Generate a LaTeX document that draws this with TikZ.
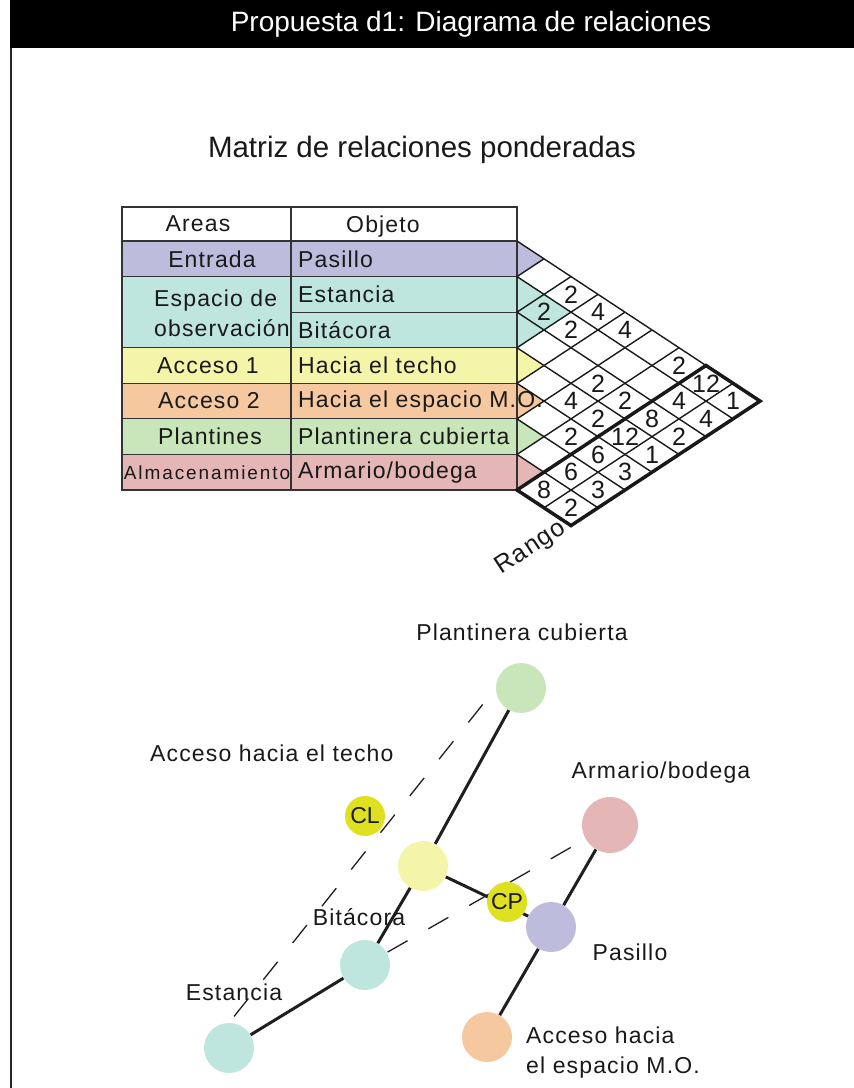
\documentclass[tikz,border=0pt]{standalone}
\usepackage{fontspec}
\setmainfont{Liberation Sans}
\newfontfamily\trkfont{Liberation Sans}[LetterSpace=5]
\newfontfamily\almfont{Liberation Sans}[LetterSpace=10]
\usepackage{tikz}
\usetikzlibrary{positioning,calc,backgrounds}
\definecolor{entcol}{RGB}{190,188,220}
\definecolor{obscol}{RGB}{191,230,222}
\definecolor{ac1col}{RGB}{245,245,170}
\definecolor{ac2col}{RGB}{245,200,160}
\definecolor{plncol}{RGB}{200,230,185}
\definecolor{almcol}{RGB}{229,182,182}
\definecolor{cruce}{RGB}{222,224,32}
\newcommand{\rowh}{35.5714}
\newcommand{\halfh}{17.7857}
\newcommand{\halfw}{27}

\begin{document}
\begin{tikzpicture}[x=1pt, y=-1pt,
    lbl/.style={font=\trkfont\fontsize{23}{30}\selectfont, text=black!90, inner sep=0pt},
    numtxt/.style={font=\fontsize{25}{28}\selectfont, text=black!90, inner sep=0pt},
    tabln/.style={line width=1.2pt, black!80},
    gridln/.style={line width=1.4pt, black!90},
    boldln/.style={line width=3.5pt, black!90, line join=miter},
    circ/.style={circle, inner sep=0pt, minimum size=50pt},
    cruz/.style={circle, inner sep=0pt, minimum size=40pt, fill=cruce, text=black!90, font=\fontsize{23}{26}\selectfont},
    rel/.style={line width=3pt, black!88},
    reld/.style={line width=1.3pt, black!88, dash pattern=on 23pt off 24pt}]
    \useasboundingbox (0,0) rectangle (854,1088);
    \fill[black] (10,0) rectangle (854,48);
    \draw[line width=2pt, black!85] (11,48) -- (11,1088);
    \node[font=\fontsize{28}{32}\selectfont, text=white] (ttl) at (471,24) {Propuesta d1: Diagrama de relaciones};
    \node[font=\fontsize{29.5}{34}\selectfont, text=black!90] (mtitle) at (422,150) {Matriz de relaciones ponderadas};

    % tabla de areas
    \foreach \k/\c in {1/entcol,2/obscol,3/obscol,4/ac1col,5/ac2col,6/plncol,7/almcol}{
        \fill[\c] (122,{241+(\k-1)*\rowh}) rectangle (517,{241+\k*\rowh});
        \fill[\c] (517,{241+(\k-1)*\rowh}) -- (517,{241+\k*\rowh}) -- ({517+\halfw},{241+(\k-0.5)*\rowh}) -- cycle;
    }
    \fill[obscol] ({517+\halfw},{241+3*\halfh}) -- ({517+2*\halfw},{241+4*\halfh}) -- ({517+\halfw},{241+5*\halfh}) -- (517,{241+4*\halfh}) -- cycle;
    \draw[tabln] (122,207) rectangle (517,490);
    \draw[tabln] (291,207) -- (291,490);
    \draw[tabln] (122,241) -- (517,241);
    \foreach \k in {1,3,4,5,6}
        \draw[tabln] (122,{241+\k*\rowh}) -- (517,{241+\k*\rowh});
    \draw[tabln] (291,{241+2*\rowh}) -- (517,{241+2*\rowh});

    % matriz triangular
    \foreach \a in {0,...,7}
        \draw[gridln] (517,{241+2*\a*\halfh}) -- ({517+(9-\a)*\halfw},{241+(\a+9)*\halfh});
    \foreach \b in {1,...,6}
        \draw[gridln] (517,{241+2*\b*\halfh}) -- ({517+\b*\halfw},{241+\b*\halfh});
    \draw[gridln] ({517+\halfw},{241+15*\halfh}) -- ({517+8*\halfw},{241+8*\halfh});
    \draw[boldln] (517,{241+14*\halfh}) -- ({517+2*\halfw},{241+16*\halfh}) -- ({517+9*\halfw},{241+9*\halfh}) -- ({517+7*\halfw},{241+7*\halfh}) -- cycle;

    \node[lbl] (hareas) at (198,224) {Areas};
    \node[lbl] (hobj) at (383,227) {Objeto};
    \node[lbl] (aent) at (212,{241+0.5*\rowh}) {Entrada};
    \node[lbl, anchor=west, align=left] (aobs) at (154,313) {Espacio de\\observación};
    \node[lbl] (aac1) at (208,{241+3.5*\rowh}) {Acceso 1};
    \node[lbl] (aac2) at (209,{241+4.5*\rowh}) {Acceso 2};
    \node[lbl] (apln) at (210,{241+5.5*\rowh}) {Plantines};
    \node[font=\almfont\fontsize{19}{22}\selectfont, text=black!90, inner sep=0pt] (aalm) at (207,{241+6.5*\rowh}) {Almacenamiento};
    \foreach \k/\t in {1/Pasillo,2/Estancia,3/Bitácora,4/Hacia el techo,5/Hacia el espacio M.O.,6/Plantinera cubierta,7/{Armario/bodega}}
        \node[lbl, anchor=west] (o\k) at (298,{241+(\k-0.5)*\rowh}) {\t};

    \foreach \i/\j/\v in {1/3/2, 2/3/2, 1/4/4, 2/4/2, 1/5/4, 1/7/2, 3/6/2, 4/6/4, 3/7/2, 4/7/2, 5/7/2,
                          1/8/12, 2/8/4, 3/8/8, 4/8/12, 5/8/6, 6/8/6, 7/8/8,
                          1/9/1, 2/9/4, 3/9/2, 4/9/1, 5/9/3, 6/9/3, 7/9/2}
        \node[numtxt] (v\i\j) at ({517+(\j-\i)*\halfw},{241+(\i+\j-1)*\halfh}) {\v};
    \node[lbl, font=\trkfont\fontsize{25}{28}\selectfont, rotate=33.4] (rango) at (531,548) {Rango};

    % diagrama de relaciones
    \node[circ, fill=plncol] (plant) at (521,688) {};
    \node[circ, fill=almcol, minimum size=56pt] (arm) at (610,825) {};
    \node[circ, fill=ac1col] (techo) at (423,866) {};
    \node[circ, fill=entcol] (pas) at (551,927) {};
    \node[circ, fill=obscol] (bit) at (365,965) {};
    \node[circ, fill=obscol] (est) at (229,1048) {};
    \node[circ, fill=ac2col] (mo) at (487,1037) {};
    \node[cruz] (cl) at (365,816) {CL};
    \node[cruz] (cp) at (507,902) {CP};
    \begin{scope}[on background layer]
        \draw[rel] (plant) -- (techo);
        \draw[rel] (techo) -- (bit);
        \draw[rel] (bit) -- (est);
        \draw[rel] (techo) -- (pas);
        \draw[rel] (arm) -- (pas);
        \draw[rel] (pas) -- (mo);
        \draw[reld, dash phase=26pt] (plant.west) -- (est.north);
        \draw[reld, dash phase=30pt] (arm) -- (bit);
    \end{scope}

    \node[lbl] (lplant) at (522,632) {Plantinera cubierta};
    \node[lbl, anchor=west] (ltecho) at (150,753) {Acceso hacia el techo};
    \node[lbl] (larm) at (661,773) {Armario/bodega};
    \node[lbl] (lbit) at (359,917) {Bitácora};
    \node[lbl] (lpas) at (630,952) {Pasillo};
    \node[lbl] (lest) at (234,992) {Estancia};
    \node[lbl, anchor=west, align=left] (lmo) at (526,1053) {Acceso hacia\\el espacio M.O.};
\end{tikzpicture}
\end{document}
